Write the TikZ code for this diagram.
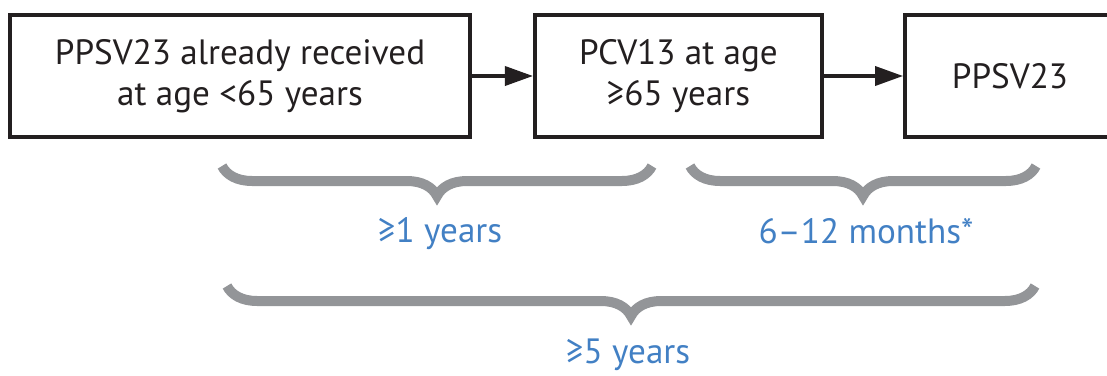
\documentclass[tikz,border=0pt]{standalone}
\usepackage{fontspec}
\setmainfont{PT Sans}
\usetikzlibrary{arrows.meta,decorations.pathreplacing}
\definecolor{boxblack}{RGB}{35,31,32}
\definecolor{intervalblue}{RGB}{66,128,196}
\definecolor{bracegray}{RGB}{147,149,152}
\tikzset{
    vaccine/.style={draw=boxblack, line width=0.1cm, text=boxblack, align=center,
        minimum height=3.05cm, inner sep=0pt},
    follows/.style={draw=boxblack, line width=0.08cm, -{Triangle[length=0.7cm, width=0.48cm]}},
    interval/.style={draw=bracegray, line width=0.25cm, decorate,
        decoration={brace, amplitude=0.75cm}},
    gap/.style={text=intervalblue, anchor=base}
}
\begin{document}
\begin{tikzpicture}[font=\fontsize{25}{29.2}\selectfont]
    \useasboundingbox (0, 0) rectangle (27.675, -9.375);
    \node[vaccine, minimum width=11.5cm] (earlier) at (6.0, -1.9) {PPSV23 already received\\at age <65 years};
    \node[vaccine, minimum width=7.175cm] (pcv) at (16.96, -1.9) {PCV13 at age\\≥65 years};
    \node[vaccine, minimum width=5.25cm] (ppsv) at (25.25, -1.9) {PPSV23};
    \draw[follows] (earlier) -- (pcv);
    \draw[follows] (pcv) -- (ppsv);
    \coordinate (oneL) at (5.55, -4.15);
    \coordinate (oneR) at (16.3, -4.15);
    \coordinate (sixL) at (17.25, -4.15);
    \coordinate (sixR) at (25.9, -4.15);
    \coordinate (fiveL) at (5.675, -7.15);
    \coordinate (fiveR) at (25.875, -7.15);
    \draw[interval] (oneR) -- (oneL);
    \draw[interval] (sixR) -- (sixL);
    \draw[interval] (fiveR) -- (fiveL);
    \node[gap] (oneyear) at (11.0, -6.05) {≥1 years};
    \node[gap] (sixmonths) at (21.65, -6.075) {6–12 months*};
    \node[gap] (fiveyears) at (15.7, -9.08) {≥5 years};
\end{tikzpicture}
\end{document}
